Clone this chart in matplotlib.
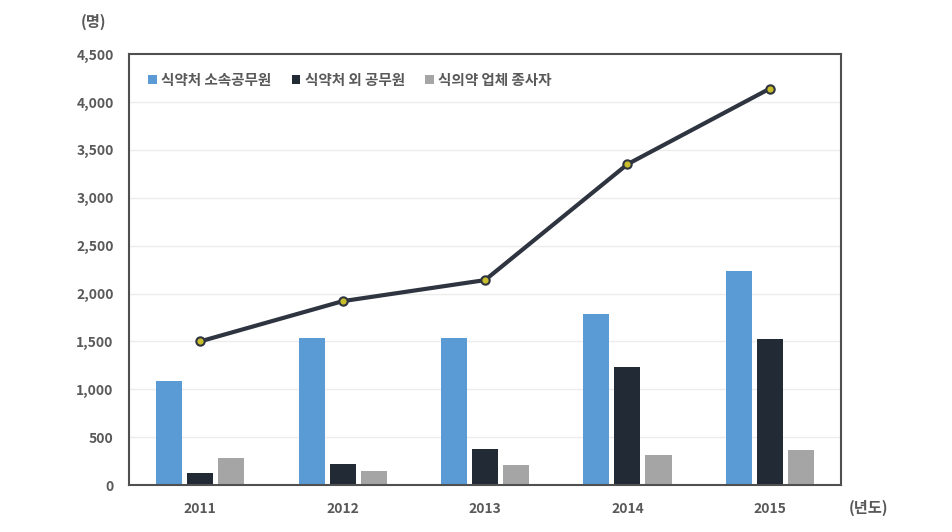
import numpy as np
import matplotlib
matplotlib.use('Agg')
import matplotlib.pyplot as plt
from matplotlib.ticker import FuncFormatter

plt.rcParams['font.family'] = ['Noto Sans CJK KR', 'DejaVu Sans']

# 데이터
years = ['2011', '2012', '2013', '2014', '2015']
series_names = ['식약처 소속공무원', '식약처 외 공무원', '식의약 업체 종사자']
mfds_staff = [1090, 1540, 1535, 1790, 2235]
other_staff = [125, 222, 375, 1235, 1530]
industry = [282, 143, 212, 316, 365]
total = [1500, 1920, 2140, 3350, 4140]

colors = ['#5b9bd5', '#222a35', '#a5a5a5']
txt_col = '#595959'

fig = plt.figure(figsize=(9.52, 5.32), dpi=100)
ax = fig.add_axes([0.1355, 0.0883, 0.748, 0.810])

x = np.arange(len(years))
w = 0.183
step = 0.218
for i, (vals, name) in enumerate(zip([mfds_staff, other_staff, industry], series_names)):
    ax.bar(x + (i - 1) * step, vals, width=w, color=colors[i], label=name, zorder=2)

ax.plot(x, total, color='#2e3440', lw=3, marker='o', markersize=6,
        markerfacecolor='#c8bd2a', markeredgecolor='#2e3440', markeredgewidth=1.5, zorder=3)

ax.set_xlim(-0.5, 4.5)
ax.set_ylim(0, 4500)
ax.set_yticks(np.arange(0, 4501, 500))
ax.yaxis.set_major_formatter(FuncFormatter(lambda v, p: f'{int(v):,}'))
ax.set_xticks(x)
ax.set_xticklabels(years)
for v in range(500, 4500, 500):
    ax.axhline(v, color='#ececec', lw=1, zorder=1)
ax.tick_params(length=0, labelsize=10, colors=txt_col, pad=12)
ax.tick_params(axis='y', pad=11)
for lab in ax.get_xticklabels() + ax.get_yticklabels():
    lab.set_fontweight('bold')
for s in ax.spines.values():
    s.set_color('#505050')
    s.set_linewidth(1.5)

leg = ax.legend(loc='upper left', ncol=3, frameon=False, fontsize=10.5,
                handlelength=0.6, handleheight=0.6, handletextpad=0.3,
                columnspacing=1.4, bbox_to_anchor=(0.008, 0.99))
for t in leg.get_texts():
    t.set_color(txt_col)
    t.set_fontweight('bold')

fig.text(0.098, 0.958, '(명)', fontsize=11, color=txt_col, fontweight='bold', ha='center', va='center')
fig.text(0.912, 0.045, '(년도)', fontsize=11, color=txt_col, fontweight='bold', ha='center', va='center')

fig.savefig('out.png', dpi=100)
